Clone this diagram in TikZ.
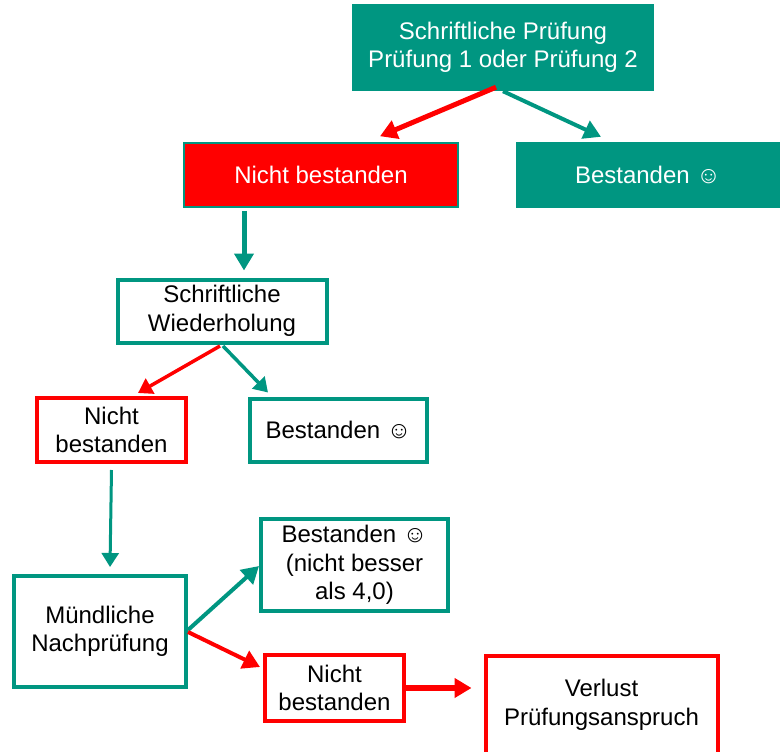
\documentclass[tikz,border=0pt]{standalone}
\usepackage{fontspec}
\setmainfont{Liberation Sans}
\usetikzlibrary{arrows.meta}
\definecolor{pteal}{RGB}{0,150,129}
\definecolor{pred}{RGB}{255,0,0}

\begin{document}
\begin{tikzpicture}[x=1pt,y=-1pt,
    every node/.style={inner sep=0pt,align=center,font=\fontsize{24}{28.5}\selectfont},
    tealfill/.style={fill=pteal,text=white},
    redfill/.style={fill=pred,draw=pteal,line width=1.5pt,text=white},
    tealbox/.style={draw=pteal,line width=4pt,fill=white},
    redbox/.style={draw=pred,line width=4pt,fill=white},
    bighead/.style={-{Triangle[length=17pt,width=19pt]}},
    smallhead/.style={-{Triangle[length=14pt,width=17pt]}},
    tealarrow/.style={draw=pteal,line width=#1,bighead},
    tealarrow/.default=4pt,
    redarrow/.style={draw=pred,line width=#1,bighead},
    redarrow/.default=4pt]
    \clip (0,0) rectangle (780,752);

    % erste Stufe
    \node[tealfill,minimum width=302pt,minimum height=87pt] (pruef) at (503,47.5)
        {Schriftliche Prüfung\\Prüfung 1 oder Prüfung 2};
    \node[redfill,minimum width=274pt,minimum height=64pt] (nicht1) at (321,175) {Nicht bestanden};
    \node[tealfill,minimum width=264pt,minimum height=66pt] (best1) at (648,175) {Bestanden ☺};
    \draw[redarrow=5pt] ([xshift=-7pt,yshift=4pt]pruef.south) -- ([xshift=59pt,yshift=6pt]nicht1.north);
    \draw[tealarrow] (pruef.south) -- ([xshift=-47pt,yshift=5pt]best1.north);

    % Wiederholung
    \node[tealbox,minimum width=209pt,minimum height=63pt] (wdh) at (222,311) {Schriftliche\\Wiederholung};
    \draw[tealarrow=5pt] ([xshift=-77pt,yshift=-3pt]nicht1.south) -- ([xshift=22pt,yshift=7pt]wdh.north);

    \node[redbox,minimum width=149pt,minimum height=64pt] (nicht2) at (111.5,430) {Nicht\\bestanden};
    \node[tealbox,minimum width=177pt,minimum height=63pt] (best2) at (338.5,430) {Bestanden ☺};
    \draw[redarrow=3.5pt,smallhead] ([xshift=-2pt,yshift=-1.5pt]wdh.south) -- ([xshift=26.5pt,yshift=3pt]nicht2.north);
    \draw[tealarrow=3.5pt,smallhead] ([xshift=1pt,yshift=-1.5pt]wdh.south) -- ([xshift=20pt,yshift=4pt]best2.north west);

    % muendlich
    \node[tealbox,minimum width=172pt,minimum height=111pt] (muend) at (100,631.5) {Mündliche\\Nachprüfung};
    \draw[tealarrow=3pt,smallhead] ([yshift=-6pt]nicht2.south) -- ([xshift=10pt,yshift=7pt]muend.north);

    \node[tealbox,minimum width=187pt,minimum height=92pt] (best3) at (354.5,565)
        {Bestanden ☺\\(nicht besser\\als 4,0)};
    \node[redbox,minimum width=139pt,minimum height=66pt] (nicht3) at (334.5,688) {Nicht\\bestanden};
    \node[redbox,minimum width=232pt,minimum height=98pt] (verlust) at (601.5,705) {Verlust\\Prüfungsanspruch};
    \draw[tealarrow] ([yshift=1.5pt]muend.east) -- ([yshift=-1pt]best3.west);
    \draw[redarrow] ([yshift=-0.5pt]muend.east) -- ([xshift=-3pt,yshift=-14pt]nicht3.north west);
    \draw[redarrow=6pt,shorten >=12pt] (nicht3.east) -- (nicht3.east -| verlust.west);

\end{tikzpicture}
\end{document}
